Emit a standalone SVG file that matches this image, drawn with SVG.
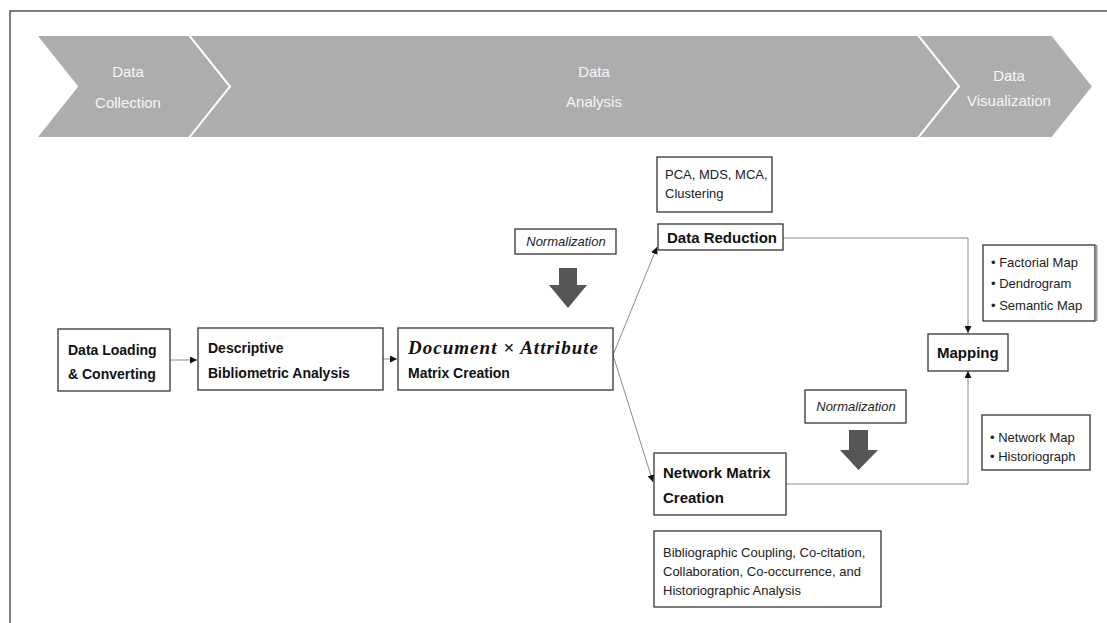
<svg xmlns="http://www.w3.org/2000/svg" width="1107" height="623" viewBox="0 0 1107 623">
<style>
.frame{fill:none;stroke:#555;stroke-width:1.5}
.chev{fill:#adadad;stroke:#fff;stroke-width:2;stroke-linejoin:miter}
.ct{font-family:"Liberation Sans",Arial,sans-serif;font-size:15px;fill:#f6f6f6;text-anchor:middle}
.box{fill:#fff;stroke:#333;stroke-width:1.3}
.b14{font-family:"Liberation Sans",Arial,sans-serif;font-size:14px;font-weight:bold;fill:#111}
.b15{font-family:"Liberation Sans",Arial,sans-serif;font-size:15px;font-weight:bold;fill:#111}
.r13{font-family:"Liberation Sans",Arial,sans-serif;font-size:13px;fill:#222}
.i13{font-family:"Liberation Sans",Arial,sans-serif;font-size:13px;font-style:italic;fill:#222;text-anchor:middle}
.math{font-family:"Liberation Serif","Times New Roman",serif;font-size:19px;font-weight:bold;font-style:italic;fill:#111}
.conn{fill:none;stroke:#8a8a8a;stroke-width:1}
.fat{fill:#555}
</style>
<defs>
<marker id="ah" viewBox="0 0 8 8" refX="8" refY="4" markerWidth="7" markerHeight="7" markerUnits="userSpaceOnUse" orient="auto">
<path d="M0,0 L8,4 L0,8 Z" fill="#111"/>
</marker>
</defs>
<path class="frame" d="M10,623 V11 H1107"/>
<g id="phases">
<polygon class="chev" points="36,35 189,35 230,86.5 189,138 36,138 77,86.5"/>
<polygon class="chev" points="189,35 918,35 959,86.5 918,138 189,138 230,86.5"/>
<polygon class="chev" points="918,35 1052,35 1093,86.5 1052,138 918,138 959,86.5"/>
<text class="ct" x="128" y="77">Data</text>
<text class="ct" x="128" y="108">Collection</text>
<text class="ct" x="594" y="77">Data</text>
<text class="ct" x="594" y="107">Analysis</text>
<text class="ct" x="1009" y="81">Data</text>
<text class="ct" x="1009" y="106">Visualization</text>
</g>
<g id="connectors">
<path class="conn" d="M170,360 H197" marker-end="url(#ah)"/>
<path class="conn" d="M383,359 H397" marker-end="url(#ah)"/>
<path class="conn" d="M613,355 L657,247" marker-end="url(#ah)"/>
<path class="conn" d="M613,355 L653,482" marker-end="url(#ah)"/>
<path class="conn" d="M783,238 H968 V333" marker-end="url(#ah)"/>
<path class="conn" d="M786,484 H968 V371" marker-end="url(#ah)"/>
<path class="fat" d="M559,268 H577 V285 H587 L568,308 L549,285 H559 Z"/>
<path class="fat" d="M849,430 H868 V450 H878 L858.5,470 L840,450 H849 Z"/>
</g>
<g id="loading">
<rect class="box" x="58" y="329" width="112" height="62"/>
<text class="b14" x="68" y="355">Data Loading</text>
<text class="b14" x="68" y="379">&amp; Converting</text>
</g>
<g id="descriptive">
<rect class="box" x="198" y="328" width="185" height="62"/>
<text class="b14" x="208" y="353">Descriptive</text>
<text class="b14" x="208" y="378">Bibliometric Analysis</text>
</g>
<g id="matrix">
<rect class="box" x="398" y="328" width="215" height="62"/>
<text class="math" x="408" y="354" textLength="190" lengthAdjust="spacing">Document × Attribute</text>
<text class="b14" x="408" y="378">Matrix Creation</text>
</g>
<g id="norm1">
<rect class="box" x="515" y="229" width="101" height="25"/>
<text class="i13" x="566" y="246">Normalization</text>
</g>
<g id="pca">
<rect class="box" x="657" y="157" width="115" height="55"/>
<text class="r13" x="665" y="179">PCA, MDS, MCA,</text>
<text class="r13" x="665" y="198">Clustering</text>
</g>
<g id="reduction">
<rect class="box" x="658" y="224" width="125" height="26"/>
<text class="b15" x="667" y="243">Data Reduction</text>
</g>
<g id="factorial">
<rect class="box" x="983" y="245" width="112" height="76"/>
<line x1="1096.5" y1="245" x2="1096.5" y2="321" stroke="#999" stroke-width="2"/>
<text class="r13" x="991" y="267">• Factorial Map</text>
<text class="r13" x="991" y="288">• Dendrogram</text>
<text class="r13" x="991" y="310">• Semantic Map</text>
</g>
<g id="mapping">
<rect class="box" x="928" y="334" width="80" height="37"/>
<text class="b15" x="937" y="358">Mapping</text>
</g>
<g id="norm2">
<rect class="box" x="805" y="390" width="101" height="33"/>
<text class="i13" x="856" y="411">Normalization</text>
</g>
<g id="networkmap">
<rect class="box" x="982" y="415" width="108" height="55"/>
<text class="r13" x="990" y="442">• Network Map</text>
<text class="r13" x="990" y="461">• Historiograph</text>
</g>
<g id="network">
<rect class="box" x="654" y="453" width="132" height="62"/>
<text class="b15" x="663" y="478">Network Matrix</text>
<text class="b15" x="663" y="503">Creation</text>
</g>
<g id="biblio">
<rect class="box" x="654" y="531" width="227" height="76"/>
<text class="r13" x="663" y="557">Bibliographic Coupling, Co-citation,</text>
<text class="r13" x="663" y="576">Collaboration, Co-occurrence, and</text>
<text class="r13" x="663" y="595">Historiographic Analysis</text>
</g>
</svg>
